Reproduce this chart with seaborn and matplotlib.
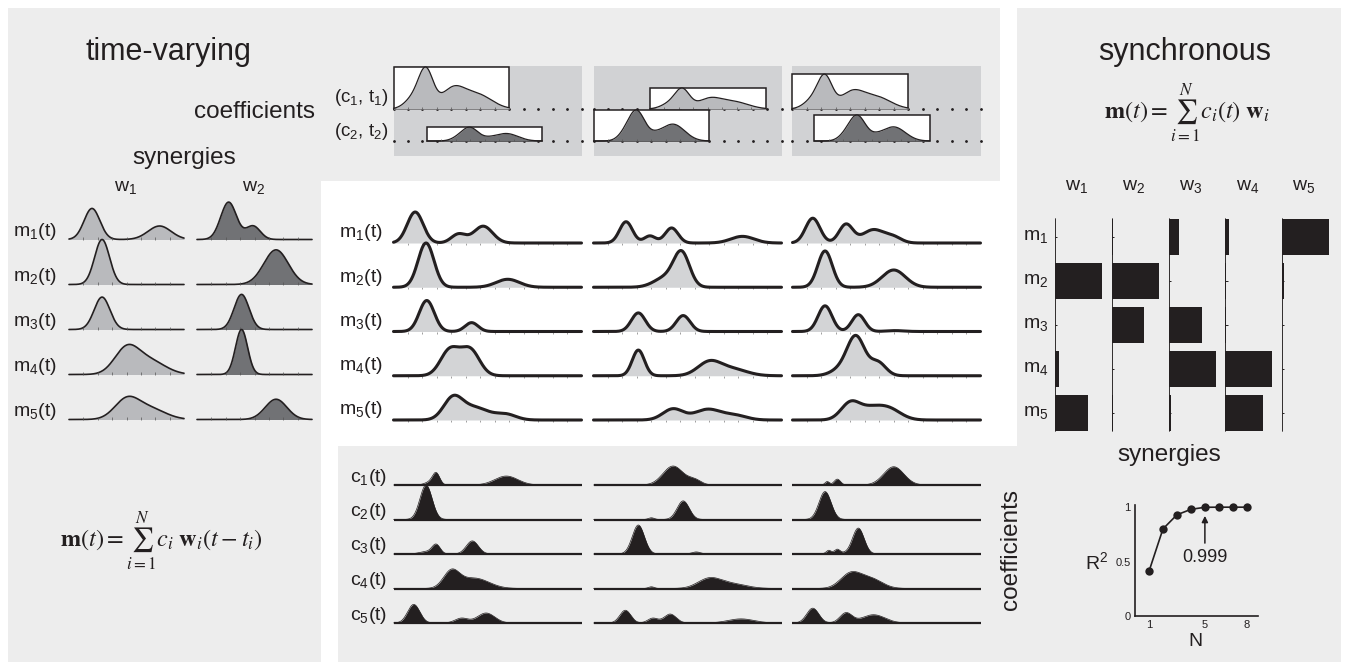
import numpy as np
import pandas as pd
import matplotlib
matplotlib.use("Agg")
import matplotlib.pyplot as plt
from matplotlib.patches import Rectangle
import seaborn as sns

# ---------------- data ----------------
MUSCLES = ["m1", "m2", "m3", "m4", "m5"]
# bumps: (centre, width, height) ; time-varying synergies, 8 time units long
SYN_W1 = [
    [(1.6, 0.55, 0.69), (6.3, 0.80, 0.30)],
    [(2.3, 0.52, 1.00)],
    [(2.3, 0.55, 0.72)],
    [(4.0, 0.85, 0.55), (5.6, 1.10, 0.30)],
    [(4.0, 0.85, 0.42), (5.6, 1.10, 0.24)],
]
SYN_W2 = [
    [(2.2, 0.55, 0.83), (3.9, 0.50, 0.30)],
    [(5.5, 0.85, 0.77)],
    [(3.1, 0.52, 0.78)],
    [(3.1, 0.42, 1.00)],
    [(5.5, 0.75, 0.45)],
]
# aggregated synergy waveforms shown in the coefficient boxes
BOX_SHAPE_1 = [(1.4, 0.6, 0.25), (2.25, 0.5, 0.85), (4.1, 0.8, 0.45), (5.8, 1.0, 0.33)]
BOX_SHAPE_2 = [(2.2, 0.5, 0.20), (3.0, 0.55, 0.95), (4.2, 0.5, 0.12), (5.5, 0.8, 0.55)]
BOX_ONSET_1 = [0.0, 3.9, 0.0]
BOX_AMP_1 = [1.00, 0.50, 0.83]
BOX_ONSET_2 = [2.3, 0.0, 1.5]
BOX_AMP_2 = [0.33, 0.74, 0.62]

# muscle patterns m(t), 3 trials x 5 muscles, 13 time units
M_TRIAL_1 = [
    [(1.5, 0.55, 0.70), (4.5, 0.50, 0.20), (6.2, 0.65, 0.38)],
    [(2.25, 0.55, 1.00), (7.9, 0.80, 0.18)],
    [(2.3, 0.52, 0.70), (5.4, 0.45, 0.20)],
    [(3.9, 0.65, 0.58), (5.3, 0.65, 0.58)],
    [(4.1, 0.65, 0.46), (5.6, 1.00, 0.28), (7.8, 0.70, 0.12)],
]
M_TRIAL_2 = [
    [(2.25, 0.45, 0.48), (3.9, 0.40, 0.16), (5.4, 0.45, 0.34), (10.3, 0.80, 0.15)],
    [(6.1, 0.55, 0.74), (5.0, 0.80, 0.22)],
    [(3.1, 0.48, 0.42), (6.2, 0.48, 0.36)],
    [(3.1, 0.42, 0.58), (8.0, 0.80, 0.30), (9.6, 1.00, 0.15)],
    [(5.5, 0.70, 0.25), (7.9, 0.90, 0.24), (9.8, 0.80, 0.10)],
]
M_TRIAL_3 = [
    [(1.4, 0.50, 0.56), (3.7, 0.48, 0.42), (5.6, 0.75, 0.30), (7.0, 0.55, 0.12)],
    [(2.25, 0.50, 0.82), (7.0, 0.80, 0.39)],
    [(2.25, 0.48, 0.58), (4.55, 0.45, 0.38), (7.1, 0.60, 0.02)],
    [(4.4, 0.60, 0.85), (5.9, 0.55, 0.30), (3.4, 0.70, 0.15)],
    [(4.0, 0.65, 0.38), (5.3, 0.75, 0.20), (6.6, 0.85, 0.26)],
]
# activation coefficients c(t)
C_TRIAL_1 = [
    [(2.95, 0.25, 0.33), (2.5, 0.35, 0.08), (7.8, 0.80, 0.26)],
    [(2.25, 0.42, 1.00)],
    [(2.95, 0.28, 0.26), (2.3, 0.50, 0.07), (5.45, 0.42, 0.38)],
    [(4.0, 0.55, 0.48), (5.6, 1.00, 0.30)],
    [(1.4, 0.42, 0.54), (4.7, 0.45, 0.14), (6.4, 0.60, 0.29)],
]
C_TRIAL_2 = [
    [(5.5, 0.70, 0.55), (7.0, 0.45, 0.14)],
    [(6.2, 0.42, 0.54), (4.0, 0.20, 0.05)],
    [(3.1, 0.42, 0.84), (7.1, 0.30, 0.06)],
    [(4.0, 0.20, 0.05), (8.0, 0.80, 0.28), (9.6, 1.00, 0.13)],
    [(2.2, 0.38, 0.37), (4.1, 0.35, 0.14), (5.3, 0.42, 0.26), (10.2, 0.90, 0.12)],
]
C_TRIAL_3 = [
    [(2.4, 0.15, 0.10), (3.1, 0.22, 0.17), (7.0, 0.70, 0.53)],
    [(2.25, 0.42, 0.81)],
    [(2.5, 0.15, 0.08), (3.1, 0.18, 0.10), (4.55, 0.40, 0.75), (3.0, 0.60, 0.04)],
    [(4.0, 0.70, 0.42), (5.4, 0.80, 0.28)],
    [(1.4, 0.42, 0.43), (3.7, 0.42, 0.29), (5.6, 0.80, 0.24)],
]
# synchronous synergies (weights per muscle)
SYNC_LABELS = ["w1", "w2", "w3", "w4", "w5"]
SYNC_W1 = [0.01, 1.00, 0.01, 0.08, 0.70]
SYNC_W2 = [0.02, 1.00, 0.68, 0.01, 0.02]
SYNC_W3 = [0.22, 0.01, 0.72, 1.00, 0.06]
SYNC_W4 = [0.09, 0.01, 0.01, 1.00, 0.80]
SYNC_W5 = [1.00, 0.05, 0.01, 0.01, 0.01]
# explained variance vs number of synergies
N_SYN = [1, 2, 3, 4, 5, 6, 7, 8]
R2 = [0.41, 0.80, 0.93, 0.98, 0.999, 1.0, 1.0, 1.0]

# ---------------- style ----------------
sns.set_theme(style="white")
plt.rcParams["font.family"] = ["Liberation Sans", "DejaVu Sans"]
plt.rcParams["mathtext.fontset"] = "dejavusans"
INK = "#231f20"
PANEL = "#ededed"
BOXBG = "#d1d2d4"
LIGHT = "#b9babd"
DARK = "#717275"
MFILL = "#d3d4d6"

W, H = 1347, 665
fig = plt.figure(figsize=(W / 100, H / 100), dpi=100)
fig.patch.set_facecolor("white")


def fig_rect(x0, y0, x1, y1):
    return [x0 / W, 1 - y1 / H, (x1 - x0) / W, (y1 - y0) / H]


def px(x, y):
    return x / W, 1 - y / H


def bg(x0, y0, x1, y1, color, z=-5):
    fig.add_artist(Rectangle(px(x0, y1), (x1 - x0) / W, (y1 - y0) / H,
                             transform=fig.transFigure, facecolor=color,
                             edgecolor="none", zorder=z))


def bump_curve(t, bumps):
    y = np.zeros_like(t)
    for c, s, h in bumps:
        y = y + h * np.exp(-0.5 * ((t - c) / s) ** 2)
    return y


def sub(base, idx):
    return base + r"$_\mathregular{" + idx + "}$"


def ftext(x, y, s, **kw):
    kw.setdefault("color", INK)
    return fig.text(*px(x, y), s, **kw)


# ---------------- background panels ----------------
bg(8, 8, 1000, 181, PANEL)
bg(8, 8, 321, 662, PANEL)
bg(1017, 8, 1341, 662, PANEL)
bg(338, 446, 1017, 662, PANEL)

# ---------------- left: time-varying synergies ----------------
ftext(168, 52, "time-varying", fontsize=22, ha="center", va="center")
ftext(315, 112, "coefficients", fontsize=17.5, ha="right", va="center")
ftext(184, 158, "synergies", fontsize=17.5, ha="center", va="center")

row_sp = 45.0
base_y5 = 419.5
t_syn = np.linspace(0, 8, 400)
for col, (syn, fill, x0, lab) in enumerate([(SYN_W1, LIGHT, 69, "1"), (SYN_W2, DARK, 197, "2")]):
    ax = fig.add_axes(fig_rect(x0, base_y5 - 5 * row_sp, x0 + 115, base_y5 + 0.06 * row_sp))
    for r, bumps in enumerate(syn):
        base = 4 - r
        y = base + bump_curve(t_syn, bumps)
        ax.fill_between(t_syn, base, y, color=fill, lw=0, zorder=10 + 3 * r)
        sns.lineplot(x=t_syn, y=y, ax=ax, color=INK, linewidth=1.2, legend=False,
                     estimator=None, zorder=11 + 3 * r, clip_on=False)
        ax.vlines(np.arange(1, 8), base, base + 0.05, color="#555555", lw=0.5, zorder=12 + 3 * r)
    ax.set_xlim(0, 8)
    ax.set_ylim(-0.06, 5.0)
    ax.set_axis_off()
    ftext(x0 + 57, 188, sub("w", lab), fontsize=14, ha="center", va="center")

for r, m in enumerate(MUSCLES):
    ftext(57, base_y5 - (4 - r) * row_sp - 8, sub("m", str(r + 1)) + "(t)",
          fontsize=14, ha="right", va="center")

ftext(161, 541, r"$\mathbf{m}(t) = \sum_{i=1}^{N} c_i\ \mathbf{w}_i(t - t_i)$",
      fontsize=17.5, ha="center", va="center", math_fontfamily="stix")

# ---------------- top: coefficient boxes ----------------
COL_X = [393.5, 593.5, 792.5]
t_box = np.linspace(0, 8, 300)
shape1 = bump_curve(t_box, BOX_SHAPE_1)
shape1 = shape1 / shape1.max()
shape2 = bump_curve(t_box, BOX_SHAPE_2)
shape2 = shape2 / shape2.max()
row1_base = (141 - 109) / 42.0
for k, x0 in enumerate(COL_X):
    bg(x0, 66, x0 + 188, 156, BOXBG, z=-4)
    ax = fig.add_axes(fig_rect(x0, 66, x0 + 188, 156))
    ax.set_xlim(0, 13)
    ax.set_ylim(-(156 - 141) / 42.0, (141 - 66) / 42.0)
    ax.set_axis_off()
    for base in (row1_base, 0.0):
        ax.plot(np.arange(0, 14), [base] * 14, ls="none", marker="o", ms=1.0,
                color=INK, zorder=1, clip_on=False)
    for (onset, amp, shape, fill, base, z) in [
        (BOX_ONSET_1[k], BOX_AMP_1[k], shape1, LIGHT, row1_base, 3),
        (BOX_ONSET_2[k], BOX_AMP_2[k], shape2, DARK, 0.0, 6),
    ]:
        ax.add_patch(Rectangle((onset, base), 8, amp, facecolor="white",
                               edgecolor=INK, lw=1.1, zorder=z, clip_on=False))
        yy = base + amp * shape
        ax.fill_between(onset + t_box, base, yy, color=fill, lw=0, zorder=z + 0.5)
        sns.lineplot(x=onset + t_box, y=yy, ax=ax, color=INK, linewidth=0.9,
                     legend=False, estimator=None, zorder=z + 0.7, clip_on=False)
        ax.vlines(onset + np.arange(1, 8), base, base + 0.04, color="#555555",
                  lw=0.5, zorder=z + 0.8)

ftext(388, 98, "(" + sub("c", "1") + ", " + sub("t", "1") + ")", fontsize=13.5,
      ha="right", va="center")
ftext(388, 132, "(" + sub("c", "2") + ", " + sub("t", "2") + ")", fontsize=13.5,
      ha="right", va="center")

# ---------------- middle: muscle patterns ----------------
t_full = np.linspace(0, 13, 600)
m_sp = 44.25
m_base5 = 420.0
for k, (trial, x0) in enumerate(zip([M_TRIAL_1, M_TRIAL_2, M_TRIAL_3], COL_X)):
    ax = fig.add_axes(fig_rect(x0, m_base5 - 5.05 * m_sp, x0 + 188, m_base5 + 0.08 * m_sp))
    for r, bumps in enumerate(trial):
        base = 4 - r
        y = base + bump_curve(t_full, bumps)
        ax.fill_between(t_full, base, y, color=MFILL, lw=0, zorder=10 + 3 * r)
        ax.vlines(np.arange(1, 13), base - 0.05, base, color="#777777", lw=0.5,
                  zorder=9 + 3 * r)
        sns.lineplot(x=t_full, y=y, ax=ax, color=INK, linewidth=2.2, legend=False,
                     estimator=None, zorder=11 + 3 * r, clip_on=False)
    ax.set_xlim(0, 13)
    ax.set_ylim(-0.08, 5.05)
    ax.set_axis_off()

for r in range(5):
    ftext(383, m_base5 - (4 - r) * m_sp - 10, sub("m", str(r + 1)) + "(t)",
          fontsize=14, ha="right", va="center")

# ---------------- bottom: activation coefficients ----------------
c_sp = 34.5
c_base5 = 623.0
for k, (trial, x0) in enumerate(zip([C_TRIAL_1, C_TRIAL_2, C_TRIAL_3], COL_X)):
    ax = fig.add_axes(fig_rect(x0, c_base5 - 5.05 * c_sp, x0 + 188, c_base5 + 0.08 * c_sp))
    for r, bumps in enumerate(trial):
        base = 4 - r
        y = base + bump_curve(t_full, bumps)
        ax.fill_between(t_full, base, y, color=INK, lw=0, zorder=10 + 3 * r)
        sns.lineplot(x=t_full, y=y, ax=ax, color=INK, linewidth=0.5, legend=False,
                     estimator=None, zorder=11 + 3 * r, clip_on=False)
        ax.plot([0, 13], [base, base], color=INK, lw=1.6, zorder=11 + 3 * r,
                solid_capstyle="butt", clip_on=False)
    ax.set_xlim(0, 13)
    ax.set_ylim(-0.08, 5.05)
    ax.set_axis_off()

for r in range(5):
    ftext(387, c_base5 - (4 - r) * c_sp - 8, sub("c", str(r + 1)) + "(t)",
          fontsize=14, ha="right", va="center")
ftext(1011, 550, "coefficients", fontsize=17.5, ha="center", va="center", rotation=90)

# ---------------- right: synchronous synergies ----------------
ftext(1185, 52, "synchronous", fontsize=22, ha="center", va="center")
ftext(1187, 113, r"$\mathbf{m}(t) = \sum_{i=1}^{N} c_i(t)\ \mathbf{w}_i$",
      fontsize=17.5, ha="center", va="center", math_fontfamily="stix")

sync_vals = [SYNC_W1, SYNC_W2, SYNC_W3, SYNC_W4, SYNC_W5]
bar_sp = 44.0
for j, (lab, vals) in enumerate(zip(SYNC_LABELS, sync_vals)):
    x0 = 1055 + j * 56.75
    ax = fig.add_axes(fig_rect(x0, 215, x0 + 47, 435))
    df = pd.DataFrame({"muscle": MUSCLES, "weight": vals})
    sns.barplot(data=df, x="weight", y="muscle", orient="h", color=INK,
                saturation=1, width=0.82, linewidth=0, ax=ax)
    ax.set_xlim(0, 1)
    ax.set_ylim(4.5, -0.5)
    ax.axvline(0, ymin=0.018, ymax=0.982, color=INK, lw=1.3)
    ax.hlines(range(5), 0, 0.05, color=INK, lw=0.7)
    ax.set_axis_off()
    ftext(x0 + 22, 187, sub("w", lab[1]), fontsize=14, ha="center", va="center")

for r, m in enumerate(MUSCLES):
    ftext(1036, 237 + r * bar_sp, sub("m", m[1]), fontsize=14, ha="center", va="center")

# ---------------- R^2 vs N ----------------
ftext(1169, 455, "synergies", fontsize=17.5, ha="center", va="center")
ax = fig.add_axes(fig_rect(1135, 505, 1258, 616))
ax.set_facecolor("none")
sns.lineplot(x=N_SYN, y=R2, ax=ax, color=INK, marker="o", markersize=6,
             markeredgewidth=0, linewidth=1.2, legend=False, clip_on=False)
ax.set_xlim(0, 8.8)
ax.set_ylim(0, 1.02)
ax.set_xticks([1, 5, 8])
ax.set_xticklabels(["1", "5", "8"])
ax.set_yticks([0, 0.5, 1])
ax.set_yticklabels(["0", "0.5", "1"])
ax.tick_params(length=0, labelsize=8, pad=3, colors=INK)
for s in ["top", "right"]:
    ax.spines[s].set_visible(False)
for s in ["left", "bottom"]:
    ax.spines[s].set_color(INK)
    ax.spines[s].set_linewidth(1.2)
ax.grid(False)
ax.annotate("", xy=(5, 0.92), xytext=(5, 0.67),
            arrowprops=dict(arrowstyle="-|>", color=INK, lw=1.1,
                            mutation_scale=9, shrinkA=0, shrinkB=0))
ax.text(5, 0.54, "0.999", fontsize=13, ha="center", va="center", color=INK)
ftext(1097, 563, "R" + r"$^\mathregular{2}$", fontsize=14, ha="center", va="center")
ftext(1195, 642, "N", fontsize=14, ha="center", va="center")

fig.savefig("out.png", dpi=100)
